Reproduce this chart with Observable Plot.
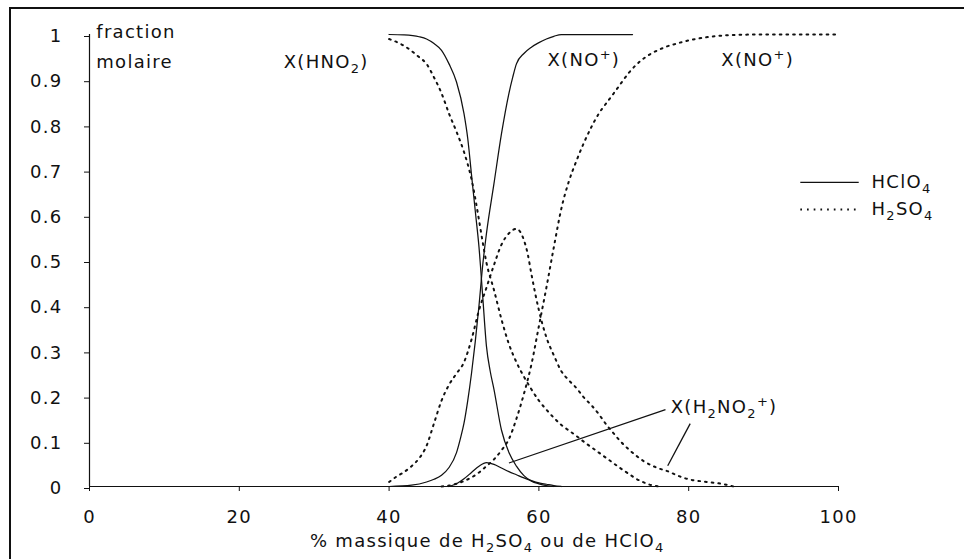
<!DOCTYPE html>
<html><head><meta charset="utf-8">
<script src="https://cdn.jsdelivr.net/npm/d3@7"></script>
<script src="https://cdn.jsdelivr.net/npm/@observablehq/plot@0.6"></script>
<style>
html,body{margin:0;padding:0;background:#fff;}
#wrap{position:relative;width:964px;height:559px;overflow:hidden;}
#frame{position:absolute;left:9px;top:7px;width:1000px;height:600px;border-left:2px solid #111;border-top:2px solid #111;pointer-events:none;}
#wrap svg{display:block;position:absolute;left:0;top:0;}
#wrap svg text{letter-spacing:1.3px;}
</style></head><body><div id="wrap"><div id="frame"></div></div>
<script>
// ---- HClO4 (solid) ----
const hno2HClO4X = [40, 42, 44, 45, 46, 47, 48, 49, 50, 50.5, 51, 51.5, 52, 52.5, 53, 53.5, 54, 55, 56, 57, 58, 59, 60, 61, 62];
const hno2HClO4Y = [1.0, 0.999, 0.995, 0.99, 0.98, 0.965, 0.935, 0.895, 0.825, 0.77, 0.69, 0.61, 0.53, 0.42, 0.31, 0.255, 0.215, 0.125, 0.075, 0.045, 0.024, 0.012, 0.006, 0.002, 0];
const noHClO4X = [40, 43, 45, 46, 47, 48, 49, 49.5, 50, 50.5, 51, 51.5, 52, 52.5, 53, 54, 55, 56, 56.5, 57, 58, 59, 60, 61, 62, 63, 72.5];
const noHClO4Y = [0, 0.003, 0.01, 0.016, 0.025, 0.042, 0.075, 0.105, 0.14, 0.19, 0.25, 0.32, 0.40, 0.49, 0.56, 0.67, 0.78, 0.87, 0.905, 0.935, 0.958, 0.972, 0.982, 0.99, 0.996, 1.0, 1.0];
const h2no2HClO4X = [48, 49, 50, 51, 52, 53, 54, 55, 56, 57, 58, 59, 60, 61, 62, 63];
const h2no2HClO4Y = [0, 0.006, 0.017, 0.031, 0.045, 0.053, 0.049, 0.041, 0.033, 0.026, 0.019, 0.013, 0.008, 0.005, 0.002, 0];
// ---- H2SO4 (dotted) ----
const hno2H2SO4X = [40, 42, 44, 45, 46, 47, 48, 49, 50, 51, 52, 52.5, 53, 54, 55, 56, 57, 58, 59, 60, 61, 62, 63, 64, 65, 66, 67, 68, 69, 70, 71, 72, 73, 74, 75, 76];
const hno2H2SO4Y = [0.99, 0.975, 0.95, 0.935, 0.905, 0.87, 0.825, 0.785, 0.74, 0.68, 0.59, 0.54, 0.495, 0.435, 0.37, 0.315, 0.275, 0.243, 0.215, 0.19, 0.17, 0.152, 0.136, 0.124, 0.112, 0.099, 0.087, 0.075, 0.063, 0.051, 0.039, 0.028, 0.017, 0.009, 0.003, 0];
const h2no2H2SO4X = [40, 41, 42, 43, 44, 45, 46, 47, 48, 49, 50, 51, 52, 53, 54, 55, 56, 57, 58, 58.5, 59, 60, 61, 62, 63, 64, 65, 66, 67, 68, 69, 70, 71, 72, 73, 74, 75, 76, 77, 78, 79, 80, 81, 82, 83, 84, 85, 86];
const h2no2H2SO4Y = [0.01, 0.022, 0.032, 0.045, 0.062, 0.09, 0.14, 0.19, 0.225, 0.25, 0.275, 0.325, 0.39, 0.44, 0.49, 0.535, 0.56, 0.57, 0.545, 0.515, 0.47, 0.39, 0.33, 0.29, 0.255, 0.235, 0.218, 0.197, 0.18, 0.16, 0.137, 0.117, 0.098, 0.082, 0.068, 0.056, 0.047, 0.04, 0.035, 0.028, 0.021, 0.016, 0.013, 0.011, 0.009, 0.007, 0.004, 0];
const noH2SO4X = [47, 48, 49, 50, 51, 52, 53, 54, 55, 56, 57, 58, 59, 60, 61, 62, 63, 64, 65, 66, 67, 68, 69, 70, 71, 72, 73, 74, 75, 76, 77, 78, 80, 82, 84, 86, 90, 100];
const noH2SO4Y = [0, 0.002, 0.006, 0.012, 0.02, 0.031, 0.045, 0.06, 0.08, 0.105, 0.15, 0.205, 0.27, 0.355, 0.44, 0.53, 0.615, 0.675, 0.72, 0.76, 0.795, 0.825, 0.848, 0.87, 0.893, 0.915, 0.933, 0.947, 0.958, 0.966, 0.973, 0.978, 0.987, 0.993, 0.997, 0.999, 1.0, 1.0];

// ---- ticks ----
const xTicks = [0, 20, 40, 60, 80, 100];
const yTicks = [0, 0.1, 0.2, 0.3, 0.4, 0.5, 0.6, 0.7, 0.8, 0.9, 1];

// ---- annotations ----
const labelText = ["fraction", "molaire", "X(HNO_2)", "X(NO^+)", "X(NO^+)"];
const labelX = [0.9, 0.9, 31.6, 66, 89.2];
const labelY = [1.004, 0.938, 0.938, 0.942, 0.942];
const labelAnchor = ["start", "start", "middle", "middle", "middle"];
const h2no2Label = ["X(H_2NO_2^+)"];
const h2no2LabelX = [77.6];
const h2no2LabelY = [0.175];
const leaderX1 = [56, 80.2];
const leaderY1 = [0.052, 0.139];
const leaderX2 = [76.9, 77.2];
const leaderY2 = [0.17, 0.046];
const xTitle = ["% massique de H_2SO_4 ou de HClO_4"];
const xTitleX = [53.1];
const legendNames = ["HClO_4", "H_2SO_4"];
const legendY = [0.673, 0.613];
const legendX1 = 94.9, legendX2 = 102.7, legendTextX = 104.4;

const toPts = (xs, ys) => xs.map((x, i) => ({x, y: ys[i]}));
const solid = {stroke: "#111", strokeWidth: 1.25, curve: "monotone-x"};
const dotted = {stroke: "#111", strokeWidth: 2, strokeDasharray: "1.7,5", curve: "monotone-x"};
const labels = labelText.map((t, i) => ({t, x: labelX[i], y: labelY[i], a: labelAnchor[i]}));

const chart = Plot.plot({
  width: 964, height: 559,
  marginLeft: 89, marginRight: 126, marginTop: 34, marginBottom: 73,
  x: {domain: [0, 100]},
  y: {domain: [0, 1]},
  style: {fontFamily: "DejaVu Sans", fontSize: "18px", color: "#111", background: "transparent"},
  marks: [
    Plot.axisX({ticks: xTicks, tickSize: 5, tickPadding: 19, label: null, tickFormat: d => String(d), fontSize: 18, stroke: "#111"}),
    Plot.axisY({ticks: yTicks, tickSize: 5, tickPadding: 22, label: null, tickFormat: d => String(+d.toFixed(1)), fontSize: 18, dy: 2}),
    Plot.ruleX([0], {y1: 0, y2: 1, stroke: "#111", strokeWidth: 1.2}),
    Plot.ruleY([0], {x1: 0, x2: 100, stroke: "#111", strokeWidth: 1.2}),
    Plot.line(toPts(hno2HClO4X, hno2HClO4Y), {x: "x", y: "y", ...solid}),
    Plot.line(toPts(noHClO4X, noHClO4Y), {x: "x", y: "y", ...solid}),
    Plot.line(toPts(h2no2HClO4X, h2no2HClO4Y), {x: "x", y: "y", ...solid}),
    Plot.line(toPts(hno2H2SO4X, hno2H2SO4Y), {x: "x", y: "y", ...dotted}),
    Plot.line(toPts(h2no2H2SO4X, h2no2H2SO4Y), {x: "x", y: "y", ...dotted}),
    Plot.line(toPts(noH2SO4X, noH2SO4Y), {x: "x", y: "y", ...dotted}),
    Plot.link(leaderX1, {x1: d => d, y1: (d, i) => leaderY1[i], x2: (d, i) => leaderX2[i], y2: (d, i) => leaderY2[i], stroke: "#111", strokeWidth: 1.3}),
    Plot.text(labels.filter(d => d.a === "start"), {x: "x", y: "y", text: "t", textAnchor: "start", fill: "#111"}),
    Plot.text(labels.filter(d => d.a === "middle"), {x: "x", y: "y", text: "t", textAnchor: "middle", fill: "#111"}),
    Plot.text(h2no2Label, {x: (d, i) => h2no2LabelX[i], y: (d, i) => h2no2LabelY[i], text: d => d, textAnchor: "start", fill: "#111"}),
    Plot.text(xTitle, {x: (d, i) => xTitleX[i], y: () => 0, dy: 55, text: d => d, textAnchor: "middle", fill: "#111"}),
    Plot.link([legendY[0]], {x1: () => legendX1, x2: () => legendX2, y1: d => d, y2: d => d, stroke: "#111", strokeWidth: 1.25}),
    Plot.link([legendY[1]], {x1: () => legendX1, x2: () => legendX2, y1: d => d, y2: d => d, stroke: "#111", strokeWidth: 2, strokeDasharray: "1.7,5"}),
    Plot.text(legendNames, {x: () => legendTextX, y: (d, i) => legendY[i], text: d => d, textAnchor: "start", fill: "#111"})
  ]
});

function richify(svg) {
  svg.querySelectorAll("text").forEach(t => {
    const s = t.textContent;
    if (!/[_^]/.test(s)) return;
    while (t.firstChild) t.removeChild(t.firstChild);
    let off = 0;
    const re = /([_^])(.)|([^_^]+)/g;
    let m;
    while ((m = re.exec(s))) {
      const ts = document.createElementNS("http://www.w3.org/2000/svg", "tspan");
      let target, txt;
      if (m[3] !== undefined) { txt = m[3]; target = 0; }
      else { txt = m[2]; target = m[1] === "_" ? 5 : -7; ts.setAttribute("font-size", "13px"); }
      ts.setAttribute("dy", String(target - off));
      off = target;
      ts.textContent = txt;
      t.appendChild(ts);
    }
  });
}
richify(chart);
document.getElementById("wrap").appendChild(chart);
</script>
</body></html>
